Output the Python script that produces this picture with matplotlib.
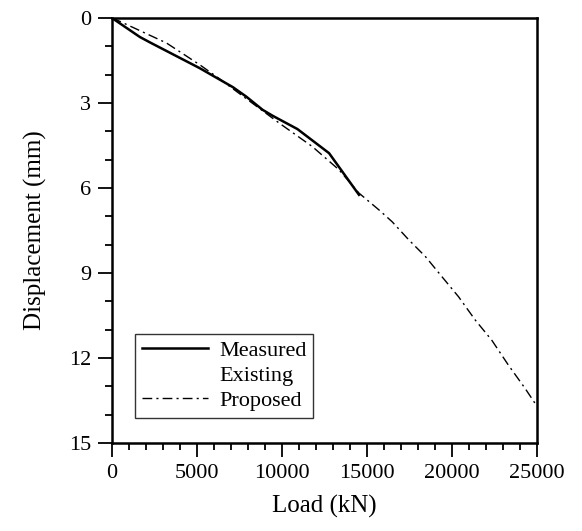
import matplotlib
matplotlib.use('Agg')
import matplotlib.pyplot as plt
from matplotlib.ticker import MultipleLocator

# Measured load-displacement curve
measured_load = [0, 1640, 2230, 5160, 7110, 7890, 8860, 9450, 10910, 12770, 14530]
measured_disp = [0, 0.67, 0.86, 1.77, 2.44, 2.77, 3.24, 3.45, 3.92, 4.77, 6.24]

# Proposed prediction
proposed_load = [0, 470, 3200, 5160, 6130, 9840, 11790, 13360, 14530, 15700,
                 16480, 17460, 18440, 19410, 20390, 21370, 22340, 23320,
                 24300, 25000]
proposed_disp = [0, 0.12, 0.88, 1.65, 2.06, 3.71, 4.54, 5.36, 6.18, 6.77,
                 7.19, 7.83, 8.42, 9.13, 9.84, 10.66, 11.37, 12.25,
                 13.07, 13.70]

x_ticks = [0, 5000, 10000, 15000, 20000, 25000]
y_ticks = [0, 3, 6, 9, 12, 15]

plt.rcParams['font.family'] = ['Liberation Serif', 'DejaVu Serif']

fig = plt.figure(figsize=(5.82, 5.31), dpi=100)
ax = fig.add_axes([0.1924, 0.1657, 0.7302, 0.8004])

ax.plot(measured_load, measured_disp, color='black', linewidth=1.8, label='Measured')
ax.plot([], [], linestyle='none', label='Existing')
ax.plot(proposed_load, proposed_disp, color='black', linewidth=1.0,
        linestyle=(0, (7, 3, 1.5, 3)), label='Proposed')

ax.set_xlim(0, 25000)
ax.set_ylim(15, 0)
ax.set_xticks(x_ticks)
ax.set_yticks(y_ticks)
ax.xaxis.set_minor_locator(MultipleLocator(1000))
ax.yaxis.set_minor_locator(MultipleLocator(1))
ax.tick_params(axis='both', which='major', direction='out', length=10, width=1.3,
               labelsize=16, pad=5)
ax.tick_params(axis='both', which='minor', direction='out', length=5, width=1.3)
for sp in ax.spines.values():
    sp.set_linewidth(1.8)

ax.set_xlabel('Load (kN)', fontsize=18, labelpad=9)
ax.set_ylabel('Displacement (mm)', fontsize=18, labelpad=16)

leg = ax.legend(loc='lower left', bbox_to_anchor=(0.054, 0.06), fontsize=16,
                frameon=True, fancybox=False, edgecolor='black',
                handlelength=3.0, handletextpad=0.5, borderpad=0.3,
                labelspacing=0.2, borderaxespad=0)
leg.get_frame().set_linewidth(1.0)

fig.savefig('out.png', dpi=100)
